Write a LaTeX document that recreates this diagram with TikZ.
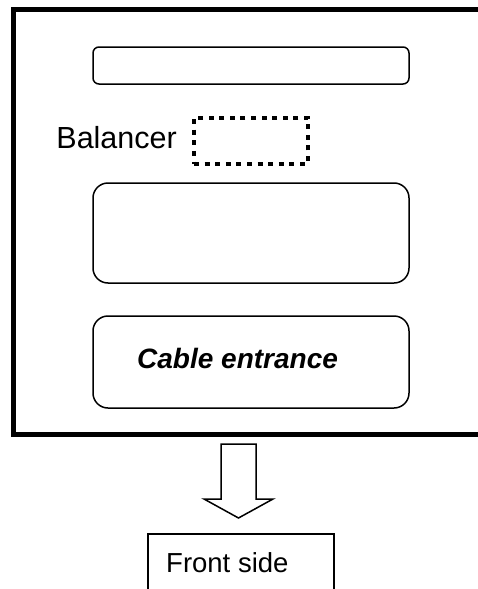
\documentclass[tikz,border=0pt]{standalone}
\usepackage{fontspec}
\setmainfont{Liberation Sans}
\begin{document}
\begin{tikzpicture}[x=1pt,y=-1pt,
  thinbox/.style={draw, line width=1.5pt, inner sep=0pt},
  lbl/.style={font=\fontsize{28}{30}\selectfont, inner sep=0pt}]
\clip (0,0) rectangle (478,589);
% outer enclosure (right side runs off the picture)
\draw[line width=5pt] (520,9.5) -- (13.5,9.5) -- (13.5,434) -- (520,434);
% top strip
\node[thinbox, rounded corners=6pt, minimum width=316pt, minimum height=37pt] (top) at (251,65.5) {};
% balancer
\node[draw, line width=4pt, dash pattern=on 5pt off 5.6pt, minimum width=114pt, minimum height=46pt, inner sep=0pt] (bal) at (251,140.5) {};
\node[lbl, anchor=base east, font=\fontsize{30.5}{32}\selectfont] (baltext) at (177,148.5) {Balancer};
% middle box
\node[thinbox, rounded corners=15pt, minimum width=316pt, minimum height=100pt] (mid) at (251,233) {};
% cable entrance box
\node[thinbox, rounded corners=15pt, minimum width=316pt, minimum height=92pt] (cable) at (251,362) {};
\node[lbl, font=\fontsize{28}{30}\selectfont\bfseries\itshape, anchor=base west] (cabletext) at (137,368.5) {Cable entrance};
% block arrow
\coordinate (a1) at (221,444);
\coordinate (a2) at (256,444);
\draw[line width=1.5pt, line join=miter] (a1) -- (221,499) -- (204,499) -- (238.5,518) -- (273,499) -- (256,499) -- (a2) -- cycle;
% front side box (bottom runs off the picture)
\coordinate (f1) at (148,600);
\coordinate (f2) at (334,600);
\draw[line width=1.5pt] (f1) -- (148,534) -- (334,534) -- (f2);
\node[lbl, font=\fontsize{27.5}{30}\selectfont, anchor=base west] (front) at (166,572) {Front side};
\end{tikzpicture}
\end{document}
